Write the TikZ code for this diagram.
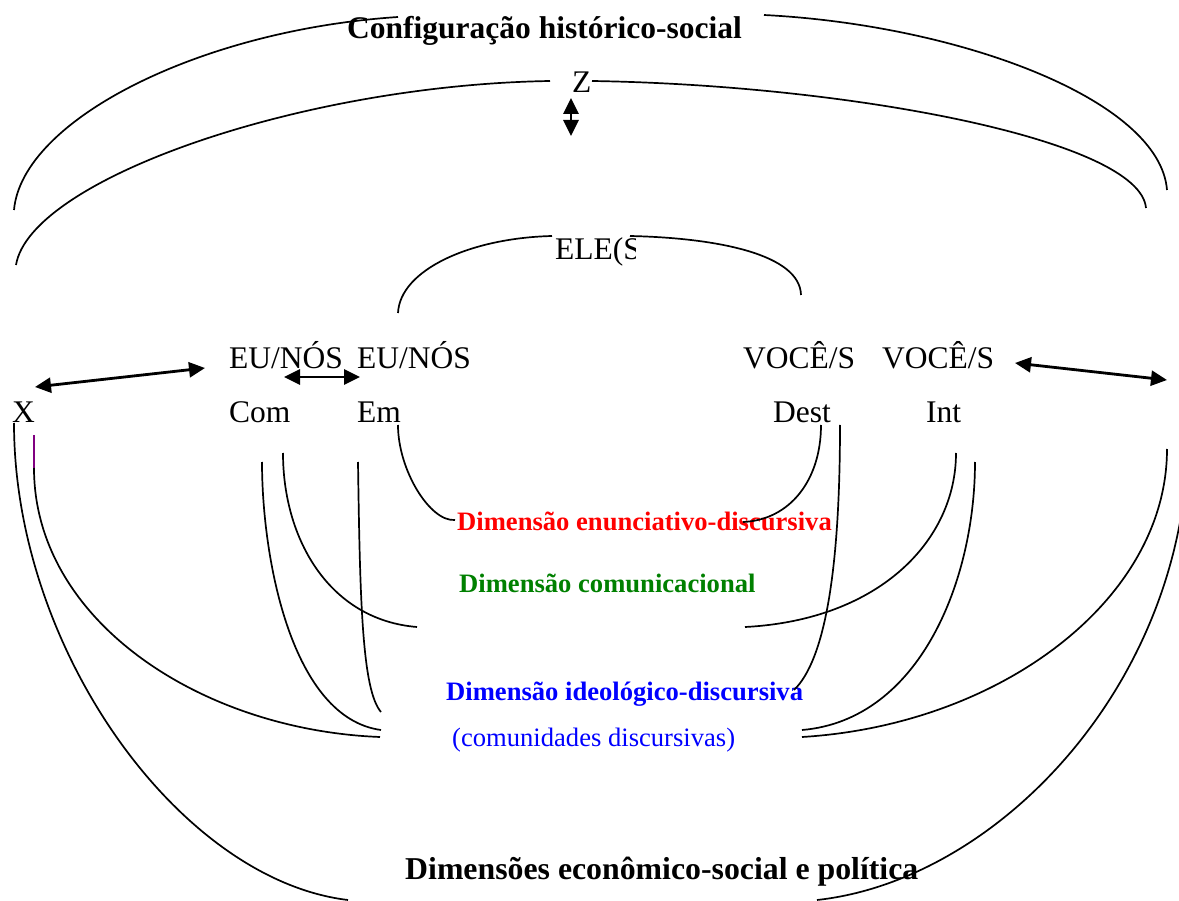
\documentclass[tikz,border=0pt]{standalone}
\usepackage{fontspec}
\setmainfont{Liberation Serif}
\usetikzlibrary{arrows.meta}

\definecolor{dimred}{RGB}{255,0,0}
\definecolor{dimgreen}{RGB}{0,128,0}
\definecolor{dimblue}{RGB}{0,0,255}
\definecolor{markpurple}{RGB}{128,0,128}

\begin{document}
\begin{tikzpicture}[x=1pt, y=-1pt,
    every node/.style={inner sep=0pt, anchor=base west, font=\fontsize{31.5}{36}\selectfont},
    dimlabel/.style={font=\fontsize{26.6}{30}\selectfont\bfseries},
    bracket/.style={line width=1.7pt},
    twoway/.style={{Triangle[length=16pt,width=15pt]}-{Triangle[length=16pt,width=15pt]}, line width=2.8pt}]

    \useasboundingbox (0,0) rectangle (1179,901);
    \clip (0,0) rectangle (1179,901);

    % Nodes
    \node (conf) at (347,39) {\bfseries Configuração histórico-social};
    \node (zlab) at (572,93) {Z};
    \begin{scope}
        \clip (540,220) rectangle (635,275);
        \node (ele) at (555,260) {ELE(S};
    \end{scope}

    \node (eua) at (229,369) {EU/NÓS};
    \node (eub) at (357,369) {EU/NÓS};
    \node (vocea) at (743,369) {VOCÊ/S};
    \node (voceb) at (882,369) {VOCÊ/S};

    \node (xlab) at (12,423) {X};
    \node (com) at (229,423) {Com};
    \node (em) at (357,423) {Em};
    \node (dest) at (773,423) {Dest};
    \node (int) at (926,423) {Int};

    \node[dimlabel, text=dimred] (dimenun) at (457,530) {Dimensão enunciativo-discursiva};
    \node[dimlabel, text=dimgreen] (dimcom) at (459,592) {Dimensão comunicacional};
    \node[dimlabel, text=dimblue] (dimideo) at (446,700) {Dimensão ideológico-discursiva};
    \node[font=\fontsize{26.6}{30}\selectfont, text=dimblue] (comdisc) at (452,746) {(comunidades discursivas)};
    \node[font=\fontsize{31.8}{36}\selectfont\bfseries] (dimeco) at (405,879) {Dimensões econômico-social e política};

    % Arrow ends
    \coordinate (xa) at (35,387);
    \coordinate (euw) at (205,368);
    \coordinate (eue) at (284,377);
    \coordinate (emw) at (360,377);
    \coordinate (vocee) at (1015,363);
    \coordinate (rside) at (1167,380);
    \coordinate (ztop) at (571,98);
    \coordinate (zbot) at (571,136);

    % Arrows
    \draw[twoway] (xa) -- (euw);
    \draw[twoway] (eue) -- (emw);
    \draw[twoway] (vocee) -- (rside);
    \draw[twoway] (ztop) -- (zbot);

    % Configuração histórico-social
    \draw[bracket] (14,210) .. controls (22,120) and (200,30) .. (398,17);
    \draw[bracket] (764,15) .. controls (960,25) and (1160,100) .. (1167,190);

    % Z
    \draw[bracket] (16,265) .. controls (30,180) and (300,85) .. (550,81);
    \draw[bracket] (592,81) .. controls (850,85) and (1140,140) .. (1146,208);

    % ELE(S
    \draw[bracket] (398,313) .. controls (400,270) and (470,238) .. (552,236);
    \draw[bracket] (630,236) .. controls (720,238) and (800,255) .. (801,295);

    % enunciativo-discursiva
    \draw[bracket] (398,425) .. controls (398,470) and (430,522) .. (455,520);
    \draw[bracket] (821,425) .. controls (821,480) and (790,520) .. (743,522);

    % comunicacional
    \draw[bracket] (283,453) .. controls (283,540) and (330,620) .. (417,627);
    \draw[bracket] (956,453) .. controls (956,540) and (880,620) .. (745,627);

    % ideológico-discursiva
    \draw[markpurple, line width=1.7pt] (34,435) -- (34,468);
    \draw[bracket] (34,468) .. controls (34,620) and (200,730) .. (380,737);
    \draw[bracket] (262,462) .. controls (262,560) and (292,718) .. (381,730);
    \draw[bracket] (358,462) .. controls (360,600) and (362,690) .. (381,712);
    \draw[bracket] (840,425) .. controls (840,570) and (825,660) .. (794,690);
    \draw[bracket] (975,462) .. controls (975,580) and (920,720) .. (802,730);
    \draw[bracket] (1167,449) .. controls (1167,600) and (1000,725) .. (802,737);

    % econômico-social e política
    \draw[bracket] (14,423) .. controls (14,650) and (180,880) .. (348,900);
    \draw[bracket] (1188,435) .. controls (1188,680) and (1000,880) .. (817,900);

\end{tikzpicture}
\end{document}
